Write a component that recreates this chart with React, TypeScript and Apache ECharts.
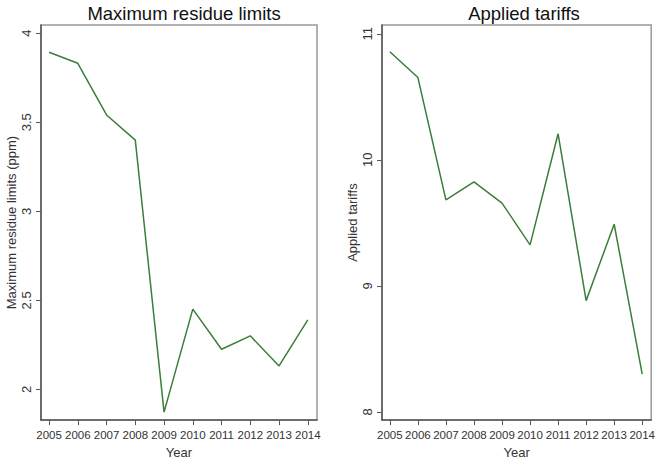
import React, { useEffect, useRef } from "react";
import * as echarts from "echarts";

const years = [2005, 2006, 2007, 2008, 2009, 2010, 2011, 2012, 2013, 2014];
const mrlValues = [3.893, 3.831, 3.541, 3.4, 1.873, 2.451, 2.226, 2.301, 2.132, 2.391];
const tariffValues = [10.858, 10.653, 9.683, 9.826, 9.657, 9.325, 10.207, 8.883, 9.489, 8.3];
const mrlTicks = [2, 2.5, 3, 3.5, 4];
const tariffTicks = [8, 9, 10, 11];

const FONT = "'Liberation Sans', Arial, sans-serif";
const LINE = "#3b7d3b";

function xAxisFor(gridIndex: number) {
  return {
    type: "value",
    gridIndex,
    min: 2004.72,
    max: 2014.32,
    name: "Year",
    nameLocation: "middle",
    nameGap: 21,
    nameTextStyle: { fontFamily: FONT, fontSize: 13, color: "#333" },
    axisLine: { show: true, lineStyle: { color: "#555", width: 1.5 } },
    axisTick: { show: true, customValues: years, length: 5, lineStyle: { color: "#555" } },
    axisLabel: {
      customValues: years,
      fontFamily: FONT,
      fontSize: 11.5,
      color: "#333",
      margin: 9,
      formatter: (v: number) => String(Math.round(v)),
    },
    splitLine: { show: false },
  };
}

function yAxisFor(gridIndex: number, name: string, min: number, max: number, ticks: number[]) {
  return {
    type: "value",
    gridIndex,
    min,
    max,
    name,
    nameLocation: "middle",
    nameRotate: 90,
    nameGap: 23,
    nameTextStyle: { fontFamily: FONT, fontSize: 13, color: "#333" },
    axisLine: { show: true, lineStyle: { color: "#555", width: 1.5 } },
    axisTick: { show: true, customValues: ticks, length: 5, lineStyle: { color: "#555" } },
    axisLabel: {
      customValues: ticks,
      rotate: 90,
      fontFamily: FONT,
      fontSize: 13,
      color: "#333",
      margin: 8,
    },
    splitLine: { show: false },
  };
}

export default function App() {
  const ref = useRef<HTMLDivElement>(null);
  useEffect(() => {
    if (!ref.current) return;
    const chart = echarts.init(ref.current, null, { renderer: "svg" });
    chart.setOption({
      animation: false,
      backgroundColor: "#fff",
      title: [
        {
          text: "Maximum residue limits",
          left: 179,
          top: -1,
          textAlign: "center",
          textStyle: { fontFamily: FONT, fontSize: 18.5, fontWeight: "normal", color: "#111" },
        },
        {
          text: "Applied tariffs",
          left: 519,
          top: -1,
          textAlign: "center",
          textStyle: { fontFamily: FONT, fontSize: 18.5, fontWeight: "normal", color: "#111" },
        },
      ],
      grid: [
        { left: 41, top: 25, width: 276, height: 403, show: true, borderColor: "#999", borderWidth: 1.5 },
        { left: 382, top: 25, width: 277, height: 403, show: true, borderColor: "#999", borderWidth: 1.5 },
      ],
      xAxis: [xAxisFor(0), xAxisFor(1)],
      yAxis: [
        yAxisFor(0, "Maximum residue limits (ppm)", 1.828, 4.046, mrlTicks),
        yAxisFor(1, "Applied tariffs", 7.935, 11.07, tariffTicks),
      ],
      series: [
        {
          type: "line",
          xAxisIndex: 0,
          yAxisIndex: 0,
          data: years.map((y, i) => [y, mrlValues[i]]),
          showSymbol: false,
          lineStyle: { color: LINE, width: 1.5 },
        },
        {
          type: "line",
          xAxisIndex: 1,
          yAxisIndex: 1,
          data: years.map((y, i) => [y, tariffValues[i]]),
          showSymbol: false,
          lineStyle: { color: LINE, width: 1.5 },
        },
      ],
    });
    return () => chart.dispose();
  }, []);
  return (
    <div
      ref={ref}
      style={{ position: "fixed", left: 0, top: 0, width: 658, height: 464, overflow: "hidden" }}
    />
  );
}
